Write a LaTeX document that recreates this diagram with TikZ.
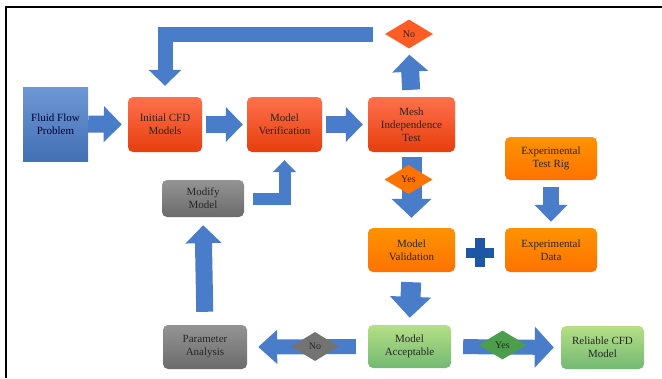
\documentclass[tikz,border=0pt]{standalone}
\usepackage{fontspec}
\setmainfont{Liberation Serif}
\usetikzlibrary{arrows.meta,shapes.geometric}

\definecolor{arrowblue}{HTML}{4A7DC9}
\definecolor{plusblue}{HTML}{1E56A6}

\tikzset{
  box/.style={rounded corners=5pt, align=center, inner sep=1pt, text=black!85,
    font=\fontsize{11}{13}\selectfont},
  bluebox/.style={box, rounded corners=0pt, top color=blue!45!cyan!40!black!0!arrowblue!80!white, bottom color=arrowblue!90!black, text=black!80!blue},
  redbox/.style={box, top color=orange!40!red!70!white, bottom color=red!55!orange!90!black!95},
  orangebox/.style={box, top color=orange!85!yellow, bottom color=orange!90!red},
  greenbox/.style={box, top color=green!45!black!30!white!75!lime, bottom color=green!50!black!55!white},
  graybox/.style={box, top color=black!42, bottom color=black!58},
  choice/.style={diamond, aspect=1.7, minimum width=48pt, minimum height=29pt,
    inner sep=0pt, text=black!85, font=\fontsize{10}{12}\selectfont},
  bigarrow/.style args={#1/#2/#3}{draw=arrowblue, line width=#1,
    -{Triangle[width=#2,length=#3]}}
}

\begin{document}
\begin{tikzpicture}[x=1pt, y=-1pt]
  \useasboundingbox (0,0) rectangle (662,378);
  % Frame
  \draw[line width=1.5pt] (662,7) -- (6,7) -- (6,378);

  % Boxes
  \node[bluebox, minimum width=65pt, minimum height=74pt] (fluid) at (55.5,124) {Fluid Flow\\Problem};
  \node[redbox, minimum width=74pt, minimum height=55pt] (init) at (165,124.5) {Initial CFD\\Models};
  \node[redbox, minimum width=75pt, minimum height=55pt] (verif) at (284.5,124.5) {Model\\Verification};
  \node[redbox, minimum width=87pt, minimum height=55pt] (mesh) at (411.5,124.5) {Mesh\\Independence\\Test};
  \node[orangebox, minimum width=92pt, minimum height=43pt] (rig) at (551,158.5) {Experimental\\Test Rig};
  \node[orangebox, minimum width=87pt, minimum height=44pt] (valid) at (411.5,250) {Model\\Validation};
  \node[orangebox, minimum width=92pt, minimum height=44pt] (expdata) at (551,250) {Experimental\\Data};
  \node[greenbox, minimum width=83pt, minimum height=43pt] (accept) at (409.5,346.5) {Model\\Acceptable};
  \node[greenbox, minimum width=83pt, minimum height=43pt] (reliable) at (602.5,347.5) {Reliable CFD\\Model};
  \node[graybox, minimum width=82pt, minimum height=37pt] (modify) at (203,198.5) {Modify\\Model};
  \node[graybox, minimum width=84pt, minimum height=44pt] (param) at (205,347) {Parameter\\Analysis};
  \node[choice, fill=red!50!orange!85!white] (notop) at (409,34) {No};

  % Main line
  \draw[bigarrow=17pt/35pt/18pt, shorten >=6pt] (fluid.east) -- (init.west);
  \draw[bigarrow=17pt/34pt/17pt, shorten <=4pt, shorten >=4pt] (init.east) -- (verif.west);
  \draw[bigarrow=17pt/34pt/17pt, shorten <=4pt, shorten >=5pt] (verif.east) -- (mesh.west);
  \draw[bigarrow=18pt/35pt/17pt, shorten <=7pt, shorten >=6pt] (mesh.north) -- (notop.south);
  % Loop back to the start
  \draw[bigarrow=15pt/32pt/16pt, shorten <=12pt, shorten >=11pt] (notop.west) -| (init.north);
  \draw[bigarrow=20pt/39pt/19pt, shorten <=5pt, shorten >=10pt] (mesh.south) -- (valid.north);
  \draw[bigarrow=16pt/32pt/17pt, shorten <=7pt, shorten >=6pt] (rig.south) -- (expdata.north);
  \draw[bigarrow=20pt/40pt/21pt, shorten <=10pt, shorten >=7pt] (valid.south) -- (accept.north);
  \draw[bigarrow=15pt/40pt/19pt, shorten <=12pt, shorten >=7pt] (accept.east) -- (reliable.west);
  \draw[bigarrow=15pt/33pt/19pt, shorten <=12pt, shorten >=11pt] (accept.west) -- (param.east);
  \draw[bigarrow=17pt/35pt/18pt, shorten <=13pt, shorten >=8pt] (param.north) -- (modify.south);
  \draw[bigarrow=12pt/23pt/12pt, shorten <=9pt, shorten >=8pt] (modify.east) -| (verif.south);

  % Decisions on the arrows
  \node[choice, fill=orange!90!red] (yes) at (408.5,179.5) {Yes};
  \node[choice, fill=black!55] (nobot) at (315,346.5) {No};
  \node[choice, fill=green!45!black!70!white] (yesright) at (502.5,345) {Yes};

  % Plus sign
  \fill[plusblue] (475,238) rectangle (485,267);
  \fill[plusblue] (466,248) rectangle (494,258);
\end{tikzpicture}
\end{document}
